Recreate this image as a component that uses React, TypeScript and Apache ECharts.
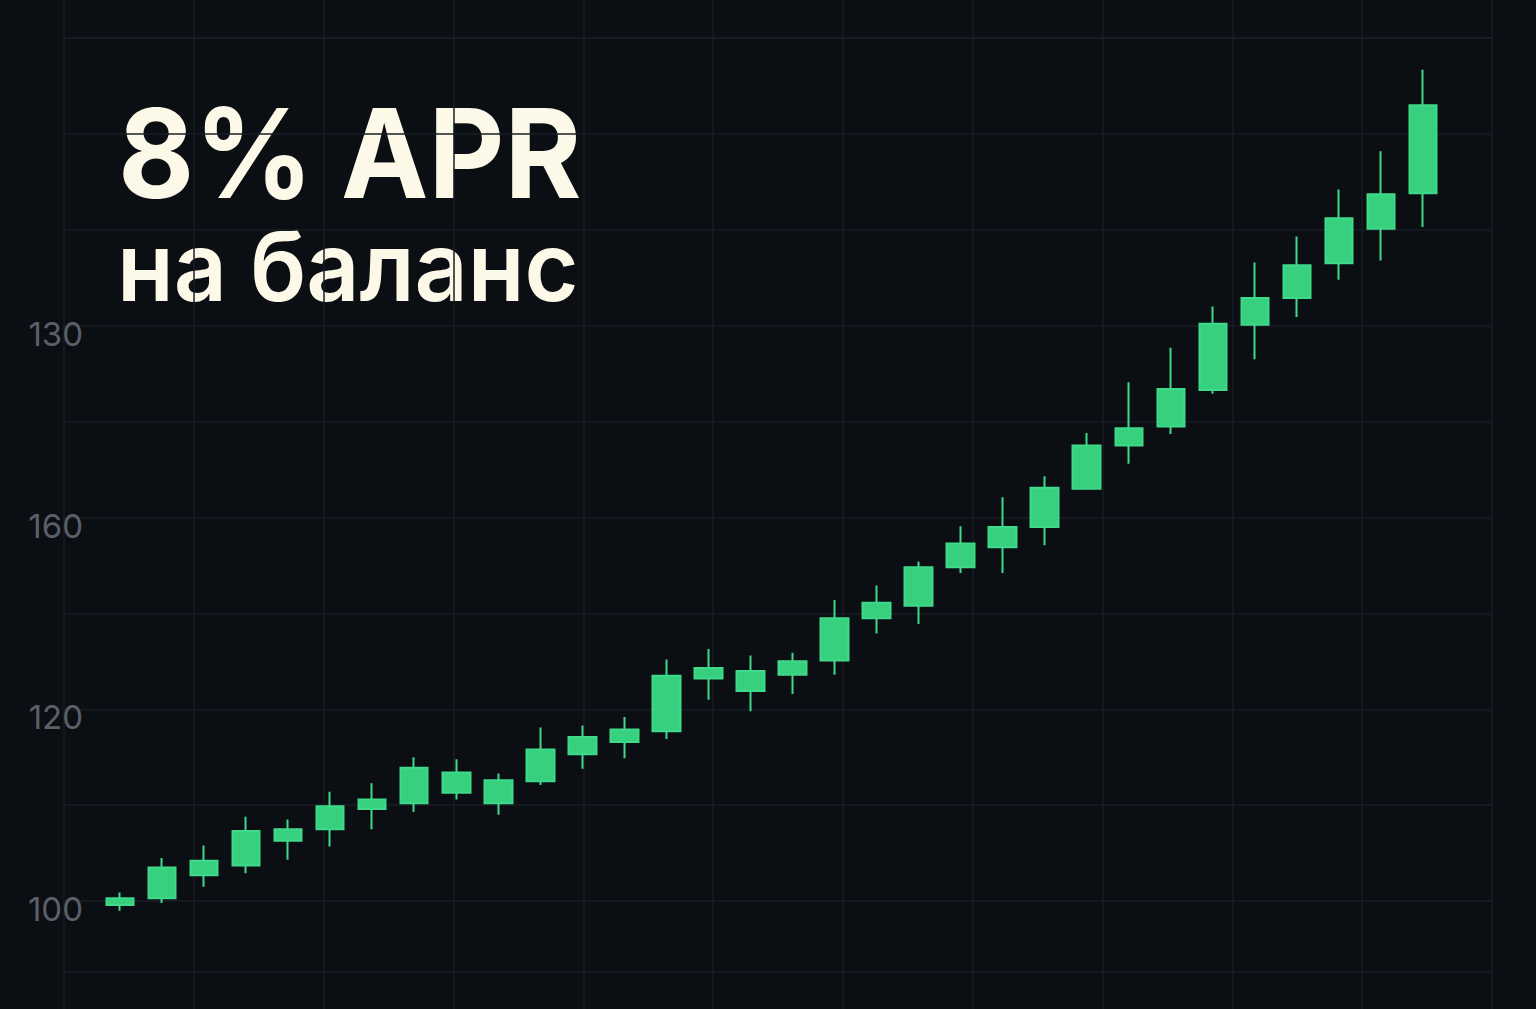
import React, { useEffect, useRef } from "react";
import * as echarts from "echarts";

const categories = [
  "1", "2", "3", "4", "5", "6", "7", "8", "9", "10", "11", "12", "13", "14", "15", "16",
  "17", "18", "19", "20", "21", "22", "23", "24", "25", "26", "27", "28", "29", "30", "31", "32",
];
const opens = [
  99.6, 100.3, 102.7, 103.7, 106.3, 107.5, 109.6, 110.2, 111.3, 110.2, 112.5, 115.3, 116.6, 117.7, 123.2, 121.9,
  123.6, 125.1, 129.5, 130.8, 134.8, 136.9, 139.0, 143.0, 147.5, 149.5, 153.3, 160.1, 162.9, 166.5, 170.1, 173.8,
];
const closes = [
  100.3, 103.5, 104.2, 107.3, 107.5, 109.9, 110.6, 113.9, 113.4, 112.6, 115.8, 117.1, 117.9, 123.5, 124.3, 124.0,
  125.0, 129.5, 131.1, 134.8, 137.3, 139.0, 143.1, 147.5, 149.3, 153.4, 160.2, 162.9, 166.3, 171.2, 173.7, 183.0,
];
const lows = [
  99.0, 99.8, 101.5, 102.9, 104.3, 105.7, 107.5, 109.3, 110.6, 109.0, 112.1, 113.8, 114.9, 116.9, 121.0, 119.8,
  121.6, 123.6, 127.9, 128.9, 134.2, 134.2, 137.1, 142.9, 145.6, 148.7, 152.9, 156.5, 160.9, 164.8, 166.8, 170.3,
];
const highs = [
  100.9, 104.5, 105.8, 108.8, 108.5, 111.4, 112.3, 115.0, 114.8, 113.3, 118.1, 118.3, 119.2, 125.2, 126.3, 125.6,
  125.9, 131.4, 132.9, 135.4, 139.1, 142.1, 144.3, 148.8, 154.1, 157.7, 162.0, 166.6, 169.3, 174.2, 178.2, 186.7,
];

const yLabelValues = [100, 120, 140, 160];
const yLabelTexts = ["100", "120", "160", "130"];

const titleLine1 = "8% APR";
const titleLine2 = "на баланс";

const BG = "#0b0e13";
const GRID = "#191e26";
const GREEN = "#37d07f";

export default function App() {
  const ref = useRef<HTMLDivElement>(null);

  useEffect(() => {
    if (!ref.current) return;
    const chart = echarts.init(ref.current, null, { renderer: "svg" });
    const candleData = categories.map((_, i) => [opens[i], closes[i], lows[i], highs[i]]);

    const hidden = { axisLine: { show: false }, axisTick: { show: false }, axisLabel: { show: false } };

    chart.setOption({
      animation: false,
      backgroundColor: BG,
      grid: [
        { left: 64, right: 44, top: 0, bottom: 0 },
        { left: 64, right: 44, top: 38, bottom: 12 },
        { left: 99, right: 92, top: 38, bottom: 12 },
        { left: 64, right: 44, top: 38, bottom: 37 },
      ],
      xAxis: [
        {
          gridIndex: 0, type: "value", min: 0, max: 11, interval: 1, ...hidden,
          splitLine: { show: true, lineStyle: { color: GRID, width: 1.5 } },
        },
        { gridIndex: 1, type: "value", min: 0, max: 1, ...hidden, splitLine: { show: false } },
        { gridIndex: 2, type: "category", data: categories, boundaryGap: true, ...hidden, splitLine: { show: false } },
        { gridIndex: 3, type: "value", min: 0, max: 1, ...hidden, splitLine: { show: false } },
      ],
      yAxis: [
        { gridIndex: 0, type: "value", min: 0, max: 1, ...hidden, splitLine: { show: false } },
        {
          gridIndex: 1, type: "value", min: 90, max: 190, interval: 10,
          axisLine: { show: false }, axisTick: { show: false },
          splitLine: { show: true, showMinLine: false, lineStyle: { color: GRID, width: 1.5 } },
          axisLabel: {
            show: true,
            align: "right",
            margin: -19,
            verticalAlign: "top",
            lineHeight: 16,
            color: "#5a5f68",
            fontSize: 33,
            fontFamily: "Inter",
            formatter: (v: number) => {
              const i = yLabelValues.indexOf(v);
              return i >= 0 ? yLabelTexts[i] : "";
            },
          },
        },
        { gridIndex: 2, type: "value", min: 90, max: 190, ...hidden, splitLine: { show: false } },
        {
          gridIndex: 3, type: "value", min: 0, max: 1, interval: 1, ...hidden,
          splitLine: { show: true, lineStyle: { color: GRID, width: 1.5 } },
        },
      ],
      graphic: [
        {
          type: "text",
          x: 118,
          y: 153,
          scaleX: 0.945,
          style: {
            text: titleLine1,
            fill: "#fcf9e8",
            font: "700 124px Inter",
            align: "left",
            verticalAlign: "middle",
          },
        },
        {
          type: "text",
          x: 117,
          y: 266,
          scaleX: 0.965,
          style: {
            text: titleLine2,
            fill: "#fcf9e8",
            font: "600 96px Inter",
            align: "left",
            verticalAlign: "middle",
          },
        },
      ],
      series: [
        {
          type: "candlestick",
          xAxisIndex: 2,
          yAxisIndex: 2,
          data: candleData,
          barWidth: 28,
          itemStyle: {
            color: GREEN,
            color0: GREEN,
            borderColor: "#3fd98a",
            borderColor0: "#3fd98a",
            borderWidth: 2,
          },
          silent: true,
        },
      ],
    });
    return () => chart.dispose();
  }, []);

  return (
    <div
      ref={ref}
      style={{ position: "fixed", left: 0, top: 0, width: 1536, height: 1009, background: BG }}
    />
  );
}
